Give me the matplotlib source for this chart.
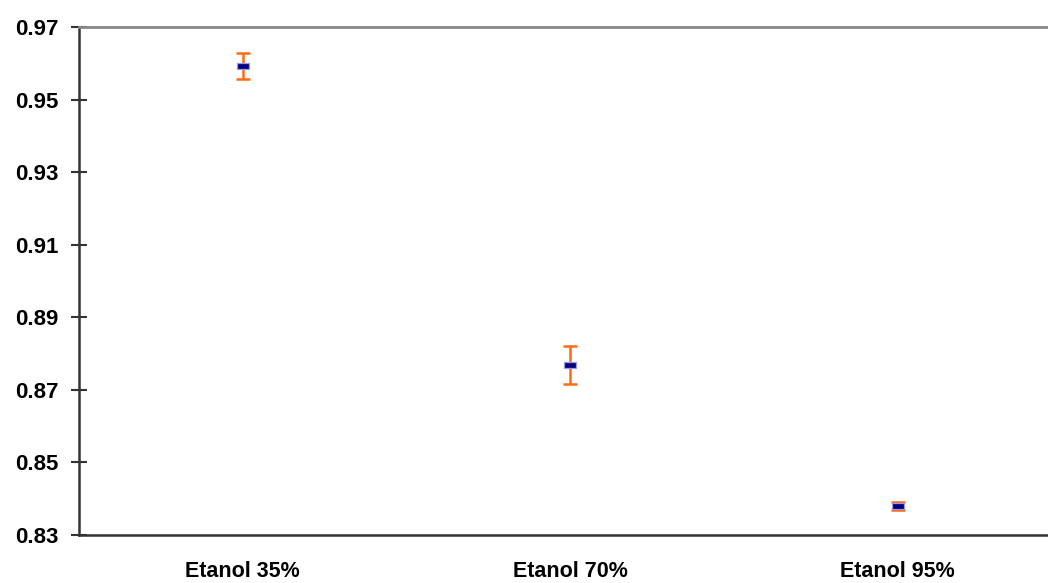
import matplotlib
matplotlib.use("Agg")
import matplotlib.pyplot as plt

categories = ["Etanol 35%", "Etanol 70%", "Etanol 95%"]
values = [0.9592, 0.8768, 0.8380]
errors = [0.0035, 0.0053, 0.0012]
yticks = [0.83, 0.85, 0.87, 0.89, 0.91, 0.93, 0.95, 0.97]

plt.rcParams['font.family'] = ['Liberation Sans', 'DejaVu Sans']

fig = plt.figure(figsize=(10.48, 5.83), dpi=100)
W, H = 1048, 583
left, right = 79, 1061.5
top, bottom = 27, 535
ax = fig.add_axes([left / W, 1 - bottom / H, (right - left) / W, (bottom - top) / H])

x = list(range(len(categories)))
ax.errorbar(x, values, yerr=errors, fmt='none', ecolor='#FF6A13', elinewidth=1.8,
            capsize=5.3, capthick=1.8, zorder=2)
rect = [(-1, -0.55), (1, -0.55), (1, 0.55), (-1, 0.55), (-1, -0.55)]
ax.plot(x, values, linestyle='none', marker=rect, markersize=8.7,
        markerfacecolor='#000080', markeredgecolor='#9999E6', markeredgewidth=0.9, zorder=3)

ax.set_xlim(-0.5, 2.5)
ax.set_ylim(0.83, 0.97)
ax.set_yticks(yticks)
ax.set_yticklabels([f"{v:.2f}" for v in yticks], fontsize=16, fontweight='bold')
ax.set_xticks(x)
ax.set_xticklabels(categories, fontsize=15.5, fontweight='bold')
ax.tick_params(axis='y', direction='inout', length=12, width=1.5, color='#333333', pad=9)
ax.tick_params(axis='x', length=0, pad=19)

for s in ['left', 'bottom']:
    ax.spines[s].set_color('#333333')
    ax.spines[s].set_linewidth(1.8)
ax.spines['top'].set_color('#888888')
ax.spines['top'].set_linewidth(2)
ax.spines['right'].set_visible(False)

fig.savefig("out.png", dpi=100)
